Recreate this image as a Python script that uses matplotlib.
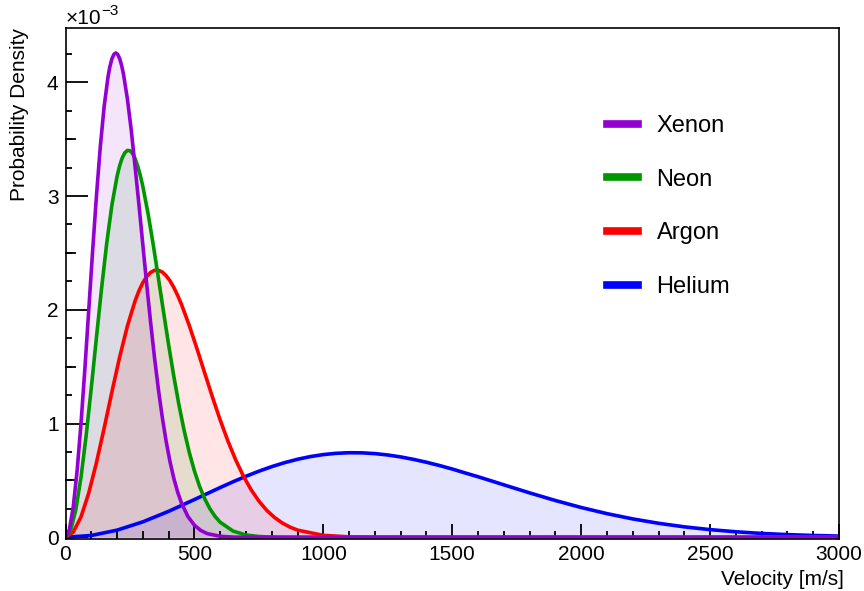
import matplotlib.pyplot as plt
from matplotlib.lines import Line2D
from matplotlib.ticker import MultipleLocator

plt.rcParams['font.family'] = ['Liberation Sans', 'DejaVu Sans']

# ------------ DATA ------------
# velocity in m/s, probability density in units of 1e-3 per m/s
xenon_v = [0, 15, 30, 45, 60, 75, 90, 105, 120, 135, 150, 165, 172, 180, 188,
           195, 202, 210, 218, 225, 240, 255, 270, 285, 300, 315, 330, 345,
           360, 375, 390, 405, 420, 435, 450, 475, 500, 525, 550, 600, 650,
           700, 800, 3000]
xenon_p = [0, 0.0681, 0.2675, 0.5844, 0.9968, 1.4766, 1.9924, 2.5111, 3.0012,
           3.4349, 3.7897, 4.0497, 4.1359, 4.2063, 4.2466, 4.2577, 4.2469,
           4.2088, 4.1450, 4.0697, 3.8544, 3.5794, 3.2549, 2.9201, 2.5688,
           2.2220, 1.8908, 1.5835, 1.3056, 1.0601, 0.8479, 0.6682, 0.5190,
           0.3974, 0.2999, 0.1819, 0.1062, 0.0597, 0.0323, 0.0085, 0.0019,
           0.0004, 0, 0]

neon_v = [0, 20, 40, 60, 80, 100, 120, 140, 160, 180, 200, 210, 220, 230, 240,
          250, 260, 270, 280, 290, 300, 320, 340, 360, 380, 400, 420, 440, 460,
          480, 500, 520, 540, 560, 580, 600, 650, 700, 750, 800, 900, 1000,
          3000]
neon_p = [0, 0.0617, 0.2420, 0.5265, 0.8929, 1.3134, 1.7565, 2.1909, 2.5872,
          2.9210, 3.1740, 3.2665, 3.3352, 3.3799, 3.4008, 3.3986, 3.3741,
          3.3287, 3.2640, 3.1816, 3.0836, 2.8488, 2.5765, 2.2832, 1.9841,
          1.6917, 1.4160, 1.1641, 0.9404, 0.7467, 0.5829, 0.4476, 0.3381,
          0.2513, 0.1838, 0.1323, 0.0544, 0.0203, 0.0069, 0.0021, 0.0002, 0, 0]

argon_v = [0, 30, 60, 90, 120, 150, 180, 210, 240, 270, 285, 300, 315, 330,
           345, 360, 375, 390, 405, 420, 435, 450, 480, 510, 540, 570, 600,
           630, 660, 690, 720, 750, 780, 810, 840, 870, 900, 1000, 1100, 1200,
           1300, 3000]
argon_p = [0, 0.0457, 0.1789, 0.3882, 0.6561, 0.9608, 1.2782, 1.5841, 1.8571,
           2.0794, 2.1674, 2.2386, 2.2924, 2.3283, 2.3466, 2.3477, 2.3322,
           2.3010, 2.2555, 2.1968, 2.1266, 2.0463, 1.8621, 1.6572, 1.4437,
           1.2321, 1.0308, 0.8457, 0.6809, 0.5381, 0.4175, 0.3183, 0.2384,
           0.1755, 0.1270, 0.0903, 0.0632, 0.0170, 0.0038, 0.0007, 0.0001, 0]

helium_v = [0, 100, 200, 300, 400, 500, 600, 650, 700, 750, 800, 850, 900, 950,
            1000, 1050, 1100, 1150, 1200, 1250, 1300, 1350, 1400, 1450, 1500,
            1550, 1600, 1650, 1700, 1800, 1900, 2000, 2100, 2200, 2300, 2400,
            2500, 2600, 2700, 2800, 2900, 3000]
helium_p = [0, 0.0161, 0.0628, 0.1358, 0.2283, 0.3318, 0.4374, 0.4883, 0.5364,
            0.5810, 0.6212, 0.6563, 0.6859, 0.7096, 0.7271, 0.7383, 0.7434,
            0.7424, 0.7356, 0.7235, 0.7064, 0.6849, 0.6597, 0.6312, 0.6001,
            0.5657, 0.5324, 0.4970, 0.4612, 0.3905, 0.3233, 0.2620, 0.2079,
            0.1616, 0.1231, 0.0919, 0.0673, 0.0484, 0.0341, 0.0236, 0.0160,
            0.0107]

# drawing order: helium at the back, xenon on top
series = [
    ('Helium', helium_v, helium_p, '#0000FF'),
    ('Argon', argon_v, argon_p, '#FF0000'),
    ('Neon', neon_v, neon_p, '#009600'),
    ('Xenon', xenon_v, xenon_p, '#9400D3'),
]
legend_order = ['Xenon', 'Neon', 'Argon', 'Helium']

# ------------ PLOT ------------
W, H = 864, 591
fig = plt.figure(figsize=(W / 100, H / 100), dpi=100)
ax = fig.add_axes([65.5 / W, 1 - 539 / H, (839 - 65.5) / W, (539 - 28) / H])

colors = {}
for name, v, p, c in series:
    ax.fill_between(v, 0, p, color=c, alpha=0.1, linewidth=0)
    ax.plot(v, p, color=c, lw=2.6, solid_joinstyle='round')
    colors[name] = c

ax.set_xlim(0, 3000)
ax.set_ylim(-0.015, 4.477)

for s in ax.spines.values():
    s.set_linewidth(1.2)

ax.xaxis.set_major_locator(MultipleLocator(500))
ax.xaxis.set_minor_locator(MultipleLocator(100))
ax.yaxis.set_major_locator(MultipleLocator(1))
ax.yaxis.set_minor_locator(MultipleLocator(0.25))
ax.tick_params(axis='x', which='major', direction='in', length=11, width=1.3,
               labelsize=15, pad=4)
ax.tick_params(axis='x', which='minor', direction='in', length=5.5, width=1.3)
ax.tick_params(axis='y', which='major', direction='in', length=16, width=1.3,
               labelsize=15, pad=5)
ax.tick_params(axis='y', which='minor', direction='in', length=4, width=1.3)

# medium ticks on the y axis (every 0.5)
sec = ax.secondary_yaxis('left')
sec.set_yticks([0.5, 1.5, 2.5, 3.5])
sec.tick_params(direction='in', length=8, width=1.3, labelleft=False)
sec.spines['left'].set_visible(False)

ax.text(1.006, -0.09, 'Velocity [m/s]', transform=ax.transAxes,
        ha='right', va='baseline', fontsize=15)
ax.text(-0.06, 1.0, 'Probability Density', transform=ax.transAxes,
        rotation=90, ha='center', va='top', fontsize=15)

fig.text(66 / W, 1 - 24 / H, '\u00d710', ha='left', va='baseline', fontsize=15)
fig.text(101 / W, 1 - 15 / H, '\u22123', ha='left', va='baseline', fontsize=11)

handles = [Line2D([], [], color=colors[n], lw=5.5) for n in legend_order]
ax.legend(handles, legend_order, loc='upper left',
          bbox_to_anchor=(607 / W, 1 - 115 / H), bbox_transform=fig.transFigure,
          frameon=False, fontsize=17, handlelength=1.3, handletextpad=0.8,
          labelspacing=1.34, borderpad=0, borderaxespad=0)

fig.savefig('out.png', dpi=100)
